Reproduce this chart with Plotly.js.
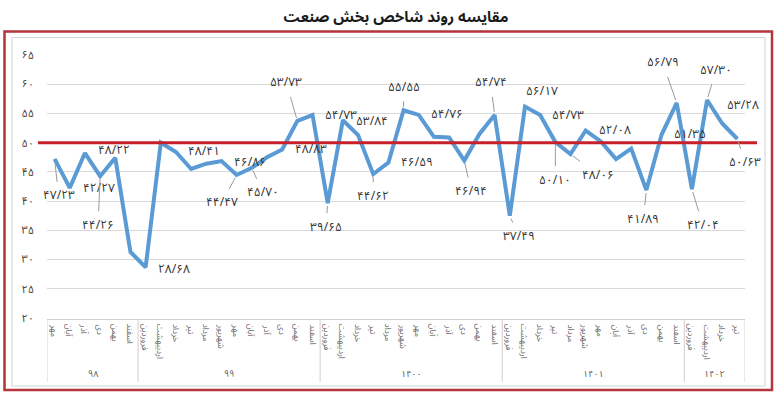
<!DOCTYPE html>
<html>
<head>
<meta charset="utf-8">
<script src="https://cdn.plot.ly/plotly-3.0.1.min.js"></script>
<style>
  html, body { margin: 0; padding: 0; background: #fff; }
  #chart { width: 777px; height: 397px; }
</style>
</head>
<body>
<div id="chart"></div>
<script>
// ---------------- DATA ----------------
const titleText = 'مقایسه روند شاخص بخش صنعت';
const years = ['۹۸', '۹۹', '۱۴۰۰', '۱۴۰۱', '۱۴۰۲'];
const months98 = ['مهر', 'آبان', 'آذر', 'دی', 'بهمن', 'اسفند'];
const monthsFull = ['فروردین', 'اردیبهشت', 'خرداد', 'تیر', 'مرداد', 'شهریور', 'مهر', 'آبان', 'آذر', 'دی', 'بهمن', 'اسفند'];
const months1402 = ['فروردین', 'اردیبهشت', 'خرداد', 'تیر'];
const indexValues = [
  47.23, 42.27, 48.22, 44.26, 47.4, 31.3,
  28.68, 50.0, 48.41, 45.5, 46.4, 46.86, 44.47, 45.70, 47.5, 48.83, 53.73, 54.73,
  39.65, 53.84, 51.3, 44.62, 46.59, 55.55, 54.76, 51.0, 50.9, 46.94, 51.5, 54.74,
  37.49, 56.17, 54.73, 50.10, 48.06, 52.08, 50.2, 47.2, 49.0, 41.89, 51.35, 56.79,
  42.04, 57.30, 53.28, 50.63
];
// 1-based positions of the points that carry a value label in the reference
const labeledPoints = [1, 2, 3, 4, 7, 9, 12, 13, 14, 16, 17, 18, 19, 20, 22, 23, 24, 25, 28, 30, 31, 32, 33, 34, 35, 36, 40, 41, 42, 43, 44, 45, 46];
const thresholdValue = 50;
const yTicks = [20, 25, 30, 35, 40, 45, 50, 55, 60, 65];

// ---------------- PRESENTATION (label placement: [dx, dy, leader]) ----------------
const labelPlacement = {
  1: [4, 37, true], 2: [29, 1, false], 3: [29, -3, false], 4: [-2, 49, true],
  7: [28, 2, false], 9: [28, 0, false], 12: [28, 1, false], 13: [-15, 28, true],
  14: [11, 25, true], 16: [29, 0, false], 17: [-11, -38, true], 18: [28, 0, false],
  19: [-2, 24, true], 20: [29, 1, false], 22: [0, 22, true], 23: [29, 0, false],
  24: [0, -23, true], 25: [28, 0, false], 28: [7, 31, true], 30: [-4, -32, true],
  31: [9, 21, true], 32: [17, -15, false], 33: [28, 0, false], 34: [0, 38, true],
  35: [27, 21, true], 36: [29, 0, false], 40: [-3, 29, true], 41: [28, 0, false],
  42: [-14, -40, true], 43: [11, 36, true], 44: [9, -30, true], 45: [21, -18, false],
  46: [8, 24, true]
};

const FONT = 'Noto Sans Arabic, Noto Naskh Arabic, DejaVu Sans, sans-serif';
const faDigits = '۰۱۲۳۴۵۶۷۸۹';
const fa = s => String(s).replace(/[0-9]/g, d => faDigits[+d]);
const faNum = v => fa(v.toFixed(2)).replace('.', '/');

const monthCats = [];
const yearStart = [];
const groups = [months98, monthsFull, monthsFull, monthsFull, months1402];
groups.forEach((arr, k) => {
  yearStart.push(monthCats.length);
  arr.forEach(m => monthCats.push(m));
});
const N = indexValues.length;
const xIdx = indexValues.map((_, i) => i);

const traces = [{
  type: 'scatter', mode: 'lines', x: xIdx, y: indexValues,
  line: { color: '#5b9bd5', width: 4 },
  hoverinfo: 'skip', showlegend: false
}];

// plot area in px: left 47, right 745, top 55, bottom 318
const L = 47, R = 745, T = 55, B = 318;
const W = R - L, H = B - T;
const px = x => (x - L) / W;
const py = y => (B - y) / H;

const annotations = labeledPoints.map(p => {
  const pl = labelPlacement[p];
  return {
    xref: 'x', yref: 'y', x: p - 1, y: indexValues[p - 1],
    text: faNum(indexValues[p - 1]),
    showarrow: true, arrowhead: 0, arrowwidth: 1,
    arrowcolor: pl[2] ? '#9a9a9a' : 'rgba(0,0,0,0)',
    standoff: 3, ax: pl[0], ay: pl[1],
    font: { family: FONT, size: 12, color: '#333' }
  };
});

// month labels (rotated) and year labels
monthCats.forEach((m, i) => {
  annotations.push({
    xref: 'x', yref: 'paper', x: i, y: py(322), text: m,
    showarrow: false, textangle: 90, xanchor: 'center', yanchor: 'top',
    font: { family: FONT, size: 8.5, color: '#6a6a6a' }
  });
});
groups.forEach((arr, k) => {
  annotations.push({
    xref: 'x', yref: 'paper', x: yearStart[k] + (arr.length - 1) / 2, y: py(374), text: years[k],
    showarrow: false, xanchor: 'center', yanchor: 'middle',
    font: { family: FONT, size: 9, color: '#555' }
  });
});

const shapes = [
  { type: 'rect', xref: 'paper', yref: 'paper', x0: px(4.5), x1: px(772), y0: py(390), y1: py(31.5),
    line: { color: '#b4353c', width: 2.5 }, fillcolor: 'rgba(0,0,0,0)' },
  { type: 'rect', xref: 'paper', yref: 'paper', x0: px(12), x1: px(765), y0: py(386), y1: py(37.5),
    line: { color: '#d3d3d3', width: 1 }, fillcolor: 'rgba(0,0,0,0)' },
  { type: 'line', xref: 'paper', yref: 'paper', x0: 0, x1: 1, y0: py(319.5), y1: py(319.5),
    line: { color: '#d0d0d0', width: 1 } }
];
yearStart.concat([N]).forEach(s => {
  shapes.push({ type: 'line', xref: 'x', yref: 'paper', x0: s - 0.5, x1: s - 0.5, y0: py(319.5), y1: py(382),
    line: { color: '#cfcfcf', width: 1 } });
});
shapes.push({ type: 'line', xref: 'paper', yref: 'y', x0: px(38), x1: px(757), y0: thresholdValue, y1: thresholdValue,
  line: { color: '#c8202a', width: 3 } });

const layout = {
  width: 777, height: 397,
  margin: { l: L, r: 777 - R, t: T, b: 397 - B, pad: 0 },
  paper_bgcolor: '#fff', plot_bgcolor: '#fff',
  title: {
    text: '<b>' + titleText + '</b>',
    x: 0.5, xref: 'paper', xanchor: 'center',
    y: 1 - 17 / 397, yref: 'container', yanchor: 'middle',
    font: { family: FONT, size: 15, color: '#1a1a1a' }
  },
  xaxis: {
    range: [-0.5, N - 0.5], showgrid: false, zeroline: false,
    showticklabels: false, ticks: '', showline: false
  },
  yaxis: {
    range: [20, 65], tickvals: yTicks, ticktext: yTicks.map(fa),
    showgrid: true, gridcolor: '#d9d9d9', gridwidth: 1, zeroline: false,
    showline: false, ticks: '', ticklabelstandoff: 12,
    tickfont: { family: FONT, size: 11, color: '#444' }
  },
  shapes: shapes,
  annotations: annotations,
  showlegend: false
};

Plotly.newPlot('chart', traces, layout, { staticPlot: true, displayModeBar: false });
</script>
</body>
</html>
